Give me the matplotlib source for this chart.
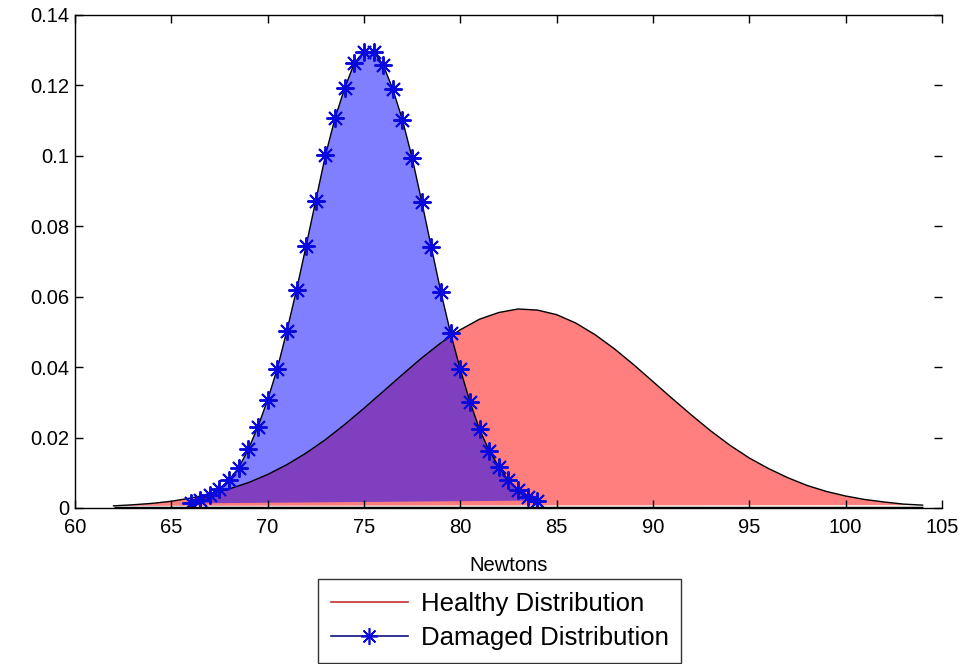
import matplotlib.pyplot as plt
from matplotlib.lines import Line2D
import numpy as np

# force readings (N) and estimated densities
healthy_x = list(range(62, 105))
healthy_y = [0.0006, 0.0009, 0.0013, 0.0019, 0.0028, 0.0039, 0.0054, 0.0072,
             0.0095, 0.0123, 0.0156, 0.0194, 0.0237, 0.0283, 0.0331, 0.0379,
             0.0426, 0.0469, 0.0506, 0.0536, 0.0555, 0.0565, 0.0562, 0.0549,
             0.0525, 0.0492, 0.0452, 0.0407, 0.0359, 0.0311, 0.0264, 0.0219,
             0.0178, 0.0142, 0.0112, 0.0086, 0.0064, 0.0047, 0.0034, 0.0024,
             0.0017, 0.0011, 0.0008]

damaged_x = [66, 66.5, 67, 67.5, 68, 68.5, 69, 69.5, 70, 70.5,
             71, 71.5, 72, 72.5, 73, 73.5, 74, 74.5, 75, 75.5,
             76, 76.5, 77, 77.5, 78, 78.5, 79, 79.5, 80, 80.5,
             81, 81.5, 82, 82.5, 83, 83.5, 84]
damaged_y = [0.0013, 0.0023, 0.0037, 0.0053, 0.0080, 0.0114, 0.0167, 0.0231,
             0.0307, 0.0395, 0.0503, 0.0619, 0.0745, 0.0873, 0.1001, 0.1107,
             0.1192, 0.1263, 0.1296, 0.1296, 0.1258, 0.1189, 0.1102, 0.0995,
             0.0870, 0.0740, 0.0612, 0.0496, 0.0394, 0.0302, 0.0223, 0.0163,
             0.0117, 0.0078, 0.0050, 0.0032, 0.0021]

xticks = [60, 65, 70, 75, 80, 85, 90, 95, 100, 105]
yticks = [0, 0.02, 0.04, 0.06, 0.08, 0.1, 0.12, 0.14]
ytick_labels = ['0', '0.02', '0.04', '0.06', '0.08', '0.1', '0.12', '0.14']

plt.rcParams['font.family'] = ['Liberation Sans', 'DejaVu Sans']

fig = plt.figure(figsize=(9.65, 6.64), dpi=100)
ax = fig.add_axes([0.0777, 0.235, 0.8983, 0.7425])

ax.fill(healthy_x, healthy_y, facecolor='red', alpha=0.5, edgecolor='none')
ax.fill(damaged_x, damaged_y, facecolor='blue', alpha=0.5, edgecolor='none')
ax.plot(healthy_x, healthy_y, color='black', lw=1.0)
ax.plot(damaged_x, damaged_y, color='black', lw=1.0)
# asterisk markers on the damaged curve
ax.plot(damaged_x, damaged_y, ls='none', marker=(8, 2, 0), ms=13, mew=1.4,
        color='#0a0adc')
ax.plot([healthy_x[0], healthy_x[-1]], [0, 0], color='black', lw=2.5,
        solid_capstyle='butt')

ax.set_xlim(60, 105)
ax.set_ylim(0, 0.14)
ax.set_xticks(xticks)
ax.set_xticklabels([str(v) for v in xticks])
ax.set_yticks(yticks)
ax.set_yticklabels(ytick_labels)
ax.tick_params(direction='in', top=True, right=True, length=6, width=1,
               labelsize=14.5)
ax.tick_params(axis='x', pad=7)
ax.tick_params(axis='y', pad=4)
ax.spines['right'].set_visible(False)
for s in ['left', 'top', 'bottom']:
    ax.spines[s].set_linewidth(1.0)

ax.set_xlabel('Newtons', fontsize=14.5, labelpad=14)

handles = [Line2D([], [], color='#c03030', lw=1.2),
           Line2D([], [], color='#101080', lw=1.2, marker=(8, 2, 0), ms=12,
                  mew=1.2, mec='#0a0adc')]
leg = ax.legend(handles, ['Healthy Distribution', 'Damaged Distribution'],
                loc='upper center', bbox_to_anchor=(0.49, -0.144),
                fontsize=18.5, frameon=True, fancybox=False, borderpad=0.5,
                handlelength=3.0, handletextpad=0.5, labelspacing=0.4,
                borderaxespad=0)
leg.get_frame().set_edgecolor('black')
leg.get_frame().set_linewidth(1.0)

fig.savefig('out.png', dpi=100)
